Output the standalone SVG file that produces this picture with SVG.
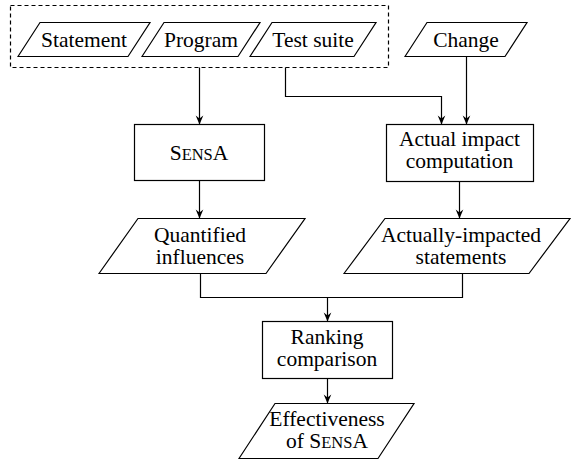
<svg xmlns="http://www.w3.org/2000/svg" width="574" height="464" viewBox="0 0 574 464">
<defs>
<style>
.shape{fill:#fff;stroke:#000;stroke-width:1.2}
.dash{fill:none;stroke:#000;stroke-width:1.2;stroke-dasharray:4,3}
.conn{fill:none;stroke:#000;stroke-width:1.2}
.t{font-family:'Liberation Serif',serif;font-size:21.5px;fill:#000;text-anchor:middle}
.sc{font-size:16.5px}
</style>
<marker id="arr" markerUnits="userSpaceOnUse" markerWidth="20" markerHeight="20" refX="0" refY="0" orient="auto" overflow="visible">
<path d="M0,0 L-9,-3.8 L-6,0 L-9,3.8 Z" fill="#000"/>
</marker>
</defs>
<rect width="574" height="464" fill="#fff"/>

<g font-family="'Liberation Serif'">
<g id="inputs-group">
<rect class="dash" x="10.5" y="5.5" width="378" height="62"/>
</g>

<g id="statement">
<polygon class="shape" points="18,56.5 40,22.5 150,22.5 128,56.5"/>
<text class="t" x="84" y="47">Statement</text>
</g>
<g id="program">
<polygon class="shape" points="142,56.5 164,22.5 260,22.5 238,56.5"/>
<text class="t" x="201" y="47">Program</text>
</g>
<g id="testsuite">
<polygon class="shape" points="250,56.5 272,22.5 376,22.5 354,56.5"/>
<text class="t" x="313" y="47">Test suite</text>
</g>
<g id="change">
<polygon class="shape" points="405,56.5 427,22.5 527,22.5 505,56.5"/>
<text class="t" x="466" y="47">Change</text>
</g>

<g id="sensa">
<rect class="shape" x="134.5" y="124.5" width="130" height="56"/>
<text class="t" x="199" y="160">S<tspan class="sc">ENS</tspan>A</text>
</g>
<g id="actual-impact">
<rect class="shape" x="386.5" y="124.5" width="147" height="57"/>
<text class="t" x="459.5" y="146">Actual impact</text>
<text class="t" x="459.5" y="168">computation</text>
</g>

<g id="quantified">
<polygon class="shape" points="99,273.5 138,218.5 305,218.5 266,273.5"/>
<text class="t" x="200" y="242">Quantified</text>
<text class="t" x="200" y="264">influences</text>
</g>
<g id="actually-impacted">
<polygon class="shape" points="344,273.5 385,218.5 570,218.5 529,273.5"/>
<text class="t" x="461" y="242">Actually-impacted</text>
<text class="t" x="461" y="264">statements</text>
</g>

<g id="ranking">
<rect class="shape" x="262.5" y="321.5" width="130" height="57"/>
<text class="t" x="327" y="344">Ranking</text>
<text class="t" x="327" y="366">comparison</text>
</g>

<g id="effectiveness">
<polygon class="shape" points="239,458.5 275,403.5 414,403.5 378,458.5"/>
<text class="t" x="327" y="426">Effectiveness</text>
<text class="t" x="327" y="448">of S<tspan class="sc">ENS</tspan>A</text>
</g>
</g>

<g id="connectors">
<path class="conn" d="M199.5,67.5 V124.5" marker-end="url(#arr)"/>
<path class="conn" d="M285.5,67.5 V96.5 H441.5 V124.5" marker-end="url(#arr)"/>
<path class="conn" d="M466.5,56.5 V124.5" marker-end="url(#arr)"/>
<path class="conn" d="M199.5,180.5 V218.5" marker-end="url(#arr)"/>
<path class="conn" d="M459.5,181.5 V218.5" marker-end="url(#arr)"/>
<path class="conn" d="M200.5,273.5 V297.5 H462.5 V273.5"/>
<path class="conn" d="M327.5,297.5 V321.5" marker-end="url(#arr)"/>
<path class="conn" d="M327.5,378.5 V403.5" marker-end="url(#arr)"/>
</g>
</svg>
